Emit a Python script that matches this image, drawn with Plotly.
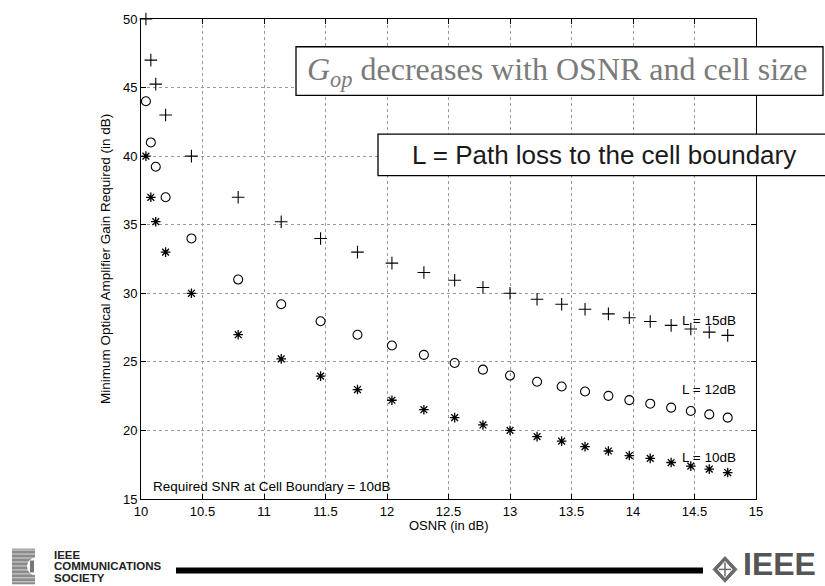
import plotly.graph_objects as go

# ---- data ----
osnr = [10.04, 10.08, 10.12, 10.2, 10.41, 10.79, 11.14, 11.46, 11.76, 12.04, 12.30, 12.55,
        12.78, 13.0, 13.22, 13.42, 13.61, 13.80, 13.97, 14.14, 14.31, 14.47, 14.62, 14.77]
gain_L15 = [50.0, 47.0, 45.25, 43.0, 40.0, 37.0, 35.22, 34.0, 33.0, 32.2, 31.52, 30.95,
            30.42, 30.0, 29.57, 29.2, 28.84, 28.5, 28.22, 27.94, 27.66, 27.4, 27.17, 26.93]
gain_L12 = [44.0, 41.0, 39.23, 37.0, 34.0, 31.0, 29.2, 27.96, 26.98, 26.19, 25.51, 24.92,
            24.43, 24.0, 23.55, 23.2, 22.84, 22.52, 22.21, 21.95, 21.66, 21.42, 21.17, 20.93]
gain_L10 = [40.0, 37.0, 35.22, 33.0, 30.0, 26.98, 25.22, 23.96, 22.98, 22.2, 21.51, 20.93,
            20.4, 20.0, 19.55, 19.22, 18.82, 18.5, 18.17, 17.96, 17.66, 17.4, 17.18, 16.93]

x_ticks = [10, 10.5, 11, 11.5, 12, 12.5, 13, 13.5, 14, 14.5, 15]
x_tick_labels = ["10", "10.5", "11", "11.5", "12", "12.5", "13", "13.5", "14", "14.5", "15"]
y_ticks = [15, 20, 25, 30, 35, 40, 45, 50]
y_tick_labels = ["15", "20", "25", "30", "35", "40", "45", "50"]

curve_labels = ["L = 15dB", "L = 12dB", "L = 10dB"]
curve_label_y = [28, 23, 18]
curve_label_x = 14.4

footer_lines = ["IEEE", "COMMUNICATIONS", "SOCIETY"]

# ---- layout geometry (pixels) ----
W, H = 825, 586
L_, R_, T_, B_ = 141, 756, 15, 499


def px(xp):
    return (xp - L_) / (R_ - L_)


def py(yp):
    return (B_ - yp) / (B_ - T_)


SANS = "Liberation Sans, Arial, Helvetica, sans-serif"
SERIF = "Liberation Serif, Times New Roman, serif"

fig = go.Figure()
fig.add_trace(go.Scatter(x=osnr, y=gain_L15, mode="markers", name="L = 15dB",
                         marker=dict(symbol="cross-thin", size=9, line=dict(color="black", width=1.1)),
                         cliponaxis=False))
fig.add_trace(go.Scatter(x=osnr, y=gain_L12, mode="markers", name="L = 12dB",
                         marker=dict(symbol="circle-open", size=9, color="black", line=dict(color="black", width=1.1)),
                         cliponaxis=False))
fig.add_trace(go.Scatter(x=osnr, y=gain_L10, mode="markers", name="L = 10dB",
                         marker=dict(symbol="asterisk-open", size=8, color="black", line=dict(color="black", width=1.3)),
                         cliponaxis=False))

annotations = []
for txt, yy in zip(curve_labels, curve_label_y):
    annotations.append(dict(x=curve_label_x, y=yy, xref="x", yref="y", text=txt, showarrow=False,
                            xanchor="left", yanchor="middle", xshift=-2,
                            font=dict(family=SANS, size=13.5, color="black")))
annotations.append(dict(x=10.1, y=15.9, xref="x", yref="y", text="Required SNR at Cell Boundary = 10dB",
                        showarrow=False, xanchor="left", yanchor="middle", xshift=-2,
                        font=dict(family=SANS, size=13.5, color="black")))
# axis titles
annotations.append(dict(x=px(448.5), y=py(526), xref="paper", yref="paper", text="OSNR (in dB)",
                        showarrow=False, xanchor="center", yanchor="middle",
                        font=dict(family=SANS, size=13, color="black")))
annotations.append(dict(x=px(105), y=py(257), xref="paper", yref="paper",
                        text="Minimum Optical Amplifier Gain Required (in dB)", textangle=-90,
                        showarrow=False, xanchor="center", yanchor="middle",
                        font=dict(family=SANS, size=13.5, color="black")))
# boxed callouts
annotations.append(dict(x=px(557), y=py(67.5), xref="paper", yref="paper",
                        text="<i>G</i><sub><i>op</i></sub> decreases with OSNR and cell size",
                        showarrow=False, xanchor="center", yanchor="middle",
                        font=dict(family=SERIF, size=32, color="#7a7a7a")))
annotations.append(dict(x=px(604), y=py(152), xref="paper", yref="paper",
                        text="L = Path loss to the cell boundary",
                        showarrow=False, xanchor="center", yanchor="middle",
                        font=dict(family=SANS, size=26, color="#1a1a1a")))
# footer text
for k, line in enumerate(footer_lines):
    annotations.append(dict(x=px(52), y=py(555 + 12 * k), xref="paper", yref="paper",
                            text=f"<b>{line}</b>", align="left",
                            showarrow=False, xanchor="left", yanchor="middle",
                            font=dict(family=SANS, size=11.5, color="#222222")))
annotations.append(dict(x=px(779), y=py(565), xref="paper", yref="paper",
                        text="<b>IEEE</b>", showarrow=False, xanchor="center", yanchor="middle",
                        font=dict(family=SANS, size=32, color="#555555")))

shapes = []


def rect(x0, y0, x1, y1, fill, line_color=None, lw=0):
    shapes.append(dict(type="rect", xref="paper", yref="paper", x0=px(x0), x1=px(x1), y0=py(y1), y1=py(y0),
                       fillcolor=fill, line=dict(color=line_color or fill, width=lw), layer="above"))


# callout boxes
rect(296, 43, 823, 92, "white", "black", 1.3)
rect(378, 131, 830, 173, "white", "black", 1.3)
# footer bar
rect(176, 568, 703, 574, "black")
# CommSoc icon: striped gray square with a white arc
rect(12, 549, 35, 585, "#8a8a8a")
for k in range(9):
    yy = 550.5 + k * 4
    shapes.append(dict(type="line", xref="paper", yref="paper", x0=px(12), x1=px(35), y0=py(yy), y1=py(yy),
                       line=dict(color="#d9d9d9", width=1), layer="above"))
shapes.append(dict(type="circle", xref="paper", yref="paper", x0=px(27), x1=px(45), y0=py(576), y1=py(558),
                   fillcolor="white", line=dict(color="white", width=0), layer="above"))
rect(30, 561, 34, 573, "#777777")
rect(35, 549, 45, 586, "white")


# IEEE diamond
def P(xp, yp):
    return f"{px(xp):.5f},{py(yp):.5f}"


shapes.append(dict(type="path", xref="paper", yref="paper",
                   path=f"M {P(725,557)} L {P(737,570)} L {P(725,583)} L {P(713,570)} Z",
                   fillcolor="#6a6a6a", line=dict(color="#6a6a6a", width=1), layer="above"))
shapes.append(dict(type="path", xref="paper", yref="paper",
                   path=f"M {P(725,562)} L {P(732,570)} L {P(725,578)} L {P(718,570)} Z",
                   fillcolor="white", line=dict(color="white", width=1), layer="above"))
shapes.append(dict(type="line", xref="paper", yref="paper", x0=px(725), x1=px(725), y0=py(563), y1=py(577),
                   line=dict(color="#6a6a6a", width=1.5), layer="above"))
shapes.append(dict(type="line", xref="paper", yref="paper", x0=px(719), x1=px(731), y0=py(570), y1=py(570),
                   line=dict(color="#6a6a6a", width=1.5), layer="above"))

axis_common = dict(showline=True, linecolor="black", linewidth=1, mirror="ticks", ticks="inside",
                   ticklen=5, tickcolor="black", showgrid=True, gridcolor="#9a9a9a", griddash="dot",
                   gridwidth=1, zeroline=False, tickfont=dict(family=SANS, size=13, color="black"))

fig.update_layout(
    width=W, height=H, plot_bgcolor="white", paper_bgcolor="white",
    margin=dict(l=L_, r=W - R_, t=T_, b=H - B_), showlegend=False,
    xaxis=dict(range=[10, 15], tickvals=x_ticks, ticktext=x_tick_labels, **axis_common),
    yaxis=dict(range=[15, 50], tickvals=y_ticks, ticktext=y_tick_labels, **axis_common),
    annotations=annotations, shapes=shapes,
)

fig.write_html("out.html", config={"displayModeBar": False},
               post_script="document.body.style.margin='0';document.body.style.overflow='hidden';")
